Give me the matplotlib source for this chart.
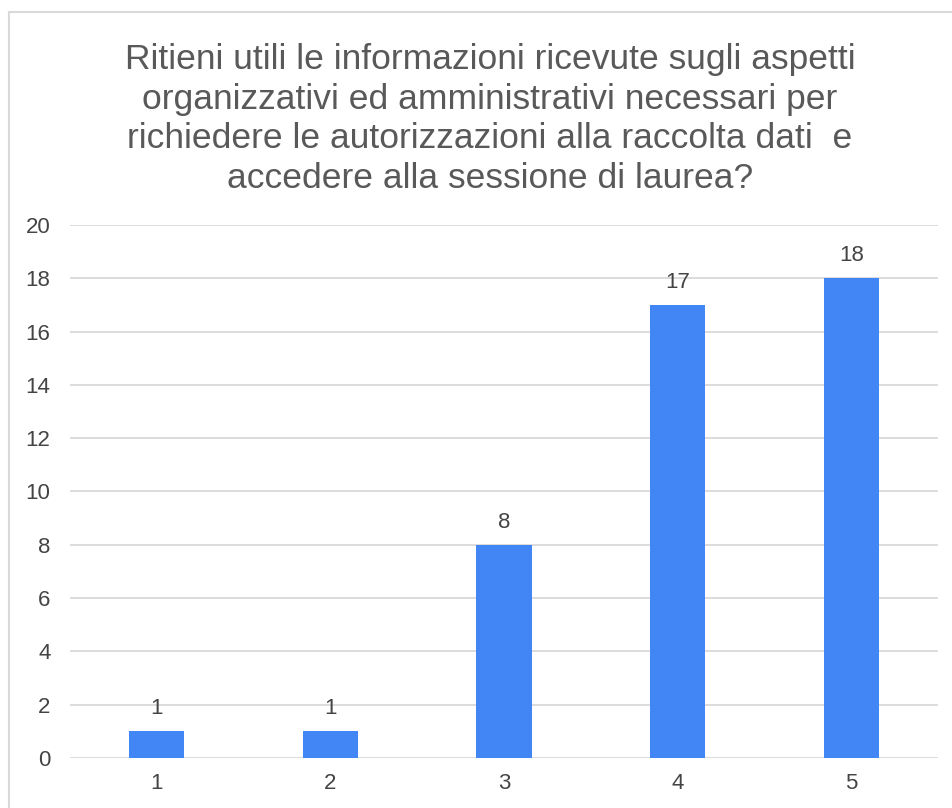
import matplotlib.pyplot as plt
from matplotlib.lines import Line2D

plt.rcParams['font.family'] = ['Liberation Sans', 'DejaVu Sans']

# data
categories = ['1', '2', '3', '4', '5']
counts = [1, 1, 8, 17, 18]
title = ("Ritieni utili le informazioni ricevute sugli aspetti\n"
         "organizzativi ed amministrativi necessari per\n"
         "richiedere le autorizzazioni alla raccolta dati  e\n"
         "accedere alla sessione di laurea?")

W, H = 952, 808
fig = plt.figure(figsize=(W / 100, H / 100), dpi=100)
ax = fig.add_axes([70 / W, 1 - 758 / H, 868 / W, (758 - 225) / H])

x = range(1, len(categories) + 1)
bars = ax.bar(x, counts, width=0.317, color='#4285F4', zorder=3)
for b, v in zip(bars, counts):
    ax.text(b.get_x() + b.get_width() / 2, v + 0.45, str(v), ha='center',
            va='bottom', fontsize=16, color='#444444')

ax.set_xlim(0.5, 5.5)
ax.set_ylim(0, 20)
ax.set_yticks(range(0, 21, 2))
ax.set_xticks(list(x))
ax.set_xticklabels(categories)
ax.grid(axis='y', color='#d9d9d9', linewidth=1.3, zorder=0)
for s in ax.spines.values():
    s.set_visible(False)
ax.tick_params(length=0, labelsize=16, labelcolor='#444444')
ax.tick_params(axis='y', pad=14)
ax.tick_params(axis='x', pad=11)

fig.text(490 / W, 1 - 43 / H, title, ha='center', va='top', fontsize=25.5,
         color='#595959', linespacing=1.25)

# chart border (top and left visible)
fig.add_artist(Line2D([9 / W, 9 / W], [0, 1 - 12 / H], color='#d9d9d9',
                      linewidth=1.5, transform=fig.transFigure))
fig.add_artist(Line2D([9 / W, 1], [1 - 12 / H, 1 - 12 / H], color='#d9d9d9',
                      linewidth=1.5, transform=fig.transFigure))

fig.savefig('out.png', dpi=100)
